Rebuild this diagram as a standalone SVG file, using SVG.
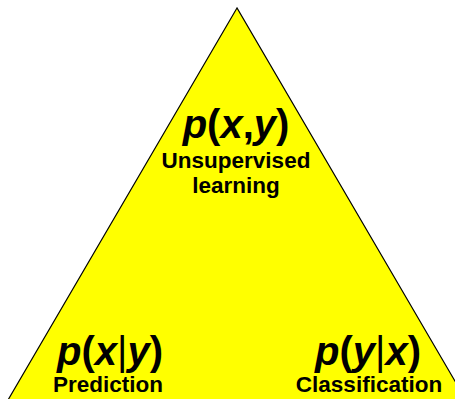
<svg xmlns="http://www.w3.org/2000/svg" width="455" height="399" viewBox="0 0 455 399">
<style>
.m{font-family:"Liberation Sans",Arial,sans-serif;font-weight:bold;font-size:40px;fill:#000;text-anchor:middle}
.i{font-style:italic}
.b{font-weight:normal}
.l{font-family:"Liberation Sans",Arial,sans-serif;font-weight:bold;font-size:22.5px;fill:#000;text-anchor:middle}
</style>
<rect width="455" height="399" fill="#fff"/>
<g id="triangle">
<polygon points="237,8 8,400 466,400" fill="#ffff00" stroke="#000" stroke-width="1.2"/>
</g>
<g id="connectors"></g>
<g id="joint">
<text class="m" x="236" y="138"><tspan class="i">p</tspan>(<tspan class="i">x</tspan>,<tspan class="i">y</tspan>)</text>
<text class="l" x="236" y="168">Unsupervised</text>
<text class="l" x="236" y="193">learning</text>
</g>
<g id="prediction">
<text class="m" x="110" y="365"><tspan class="i">p</tspan>(<tspan class="i">x</tspan><tspan class="b">|</tspan><tspan class="i">y</tspan>)</text>
<text class="l" x="108" y="392">Prediction</text>
</g>
<g id="classification">
<text class="m" x="368" y="365"><tspan class="i">p</tspan>(<tspan class="i">y</tspan><tspan class="b">|</tspan><tspan class="i">x</tspan>)</text>
<text class="l" x="369" y="392">Classification</text>
</g>
</svg>
